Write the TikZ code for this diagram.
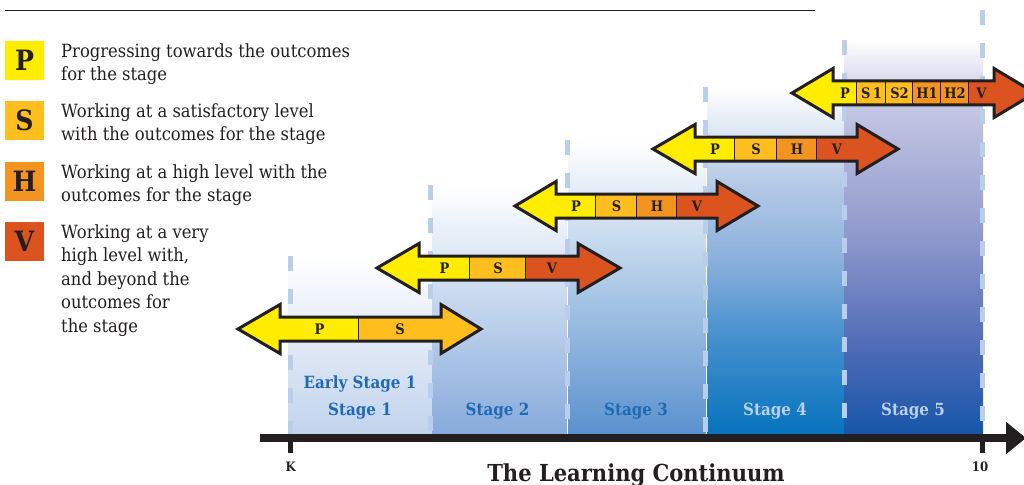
\documentclass[tikz,border=0pt]{standalone}
\usepackage{fontspec}
\setmainfont{DejaVu Serif}[FakeStretch=0.9]
\usetikzlibrary{arrows.meta}
\definecolor{cP}{HTML}{FFED00}
\definecolor{cS}{HTML}{FDBE1E}
\definecolor{cH}{HTML}{F39320}
\definecolor{cV}{HTML}{DB541F}
\definecolor{ink}{HTML}{231F20}
\definecolor{dashcol}{HTML}{B8CEEA}
\definecolor{stblue}{HTML}{1F6AB6}
\definecolor{stlight}{HTML}{BBD0EC}
\definecolor{cOneB}{HTML}{C1D3EC}
\definecolor{cOneM}{HTML}{DDE7F4}
\definecolor{cTwoB}{HTML}{86AADB}
\definecolor{cTwoM}{HTML}{BFD1EB}
\definecolor{cThrB}{HTML}{5A92CE}
\definecolor{cThrM}{HTML}{A4C0E4}
\definecolor{cFourA}{HTML}{0673BD}
\definecolor{cFourB}{HTML}{4690CE}
\definecolor{cFourC}{HTML}{8AB0DC}
\definecolor{cFourD}{HTML}{B4C9E6}
\definecolor{cFiveA}{HTML}{1656A8}
\definecolor{cFiveB}{HTML}{4D6AB5}
\definecolor{cFiveC}{HTML}{8E98CC}
\definecolor{cFiveD}{HTML}{C6C9E4}
\pgfdeclareverticalshading{colfour}{100bp}{color(0bp)=(cFourA); color(25bp)=(cFourA); color(39bp)=(cFourB); color(50bp)=(cFourC); color(61bp)=(cFourD); color(75bp)=(white); color(100bp)=(white)}
\pgfdeclareverticalshading{colfive}{100bp}{color(0bp)=(cFiveA); color(25bp)=(cFiveA); color(35.7bp)=(cFiveB); color(50bp)=(cFiveC); color(67.4bp)=(cFiveD); color(75bp)=(white); color(100bp)=(white)}
\newcommand\LChs{12}
\newcommand\LChh{24.5}
\newcommand\LCarrow[7]{%
  \fill[#6] (#2,#1) -- (#3,#1-\LChh) -- (#3,#1-\LChs) -- (#4,#1-\LChs) -- (#4,#1-\LChh) -- (#5,#1) -- (#4,#1+\LChh) -- (#4,#1+\LChs) -- (#3,#1+\LChs) -- (#3,#1+\LChh) -- cycle;
  \fill[cP] (#2,#1) -- (#3,#1-\LChh) -- (#3,#1+\LChh) -- cycle;
  \foreach \xa/\xb/\col/\lab/\nm in {#7}{%
    \fill[\col] (\xa,#1-\LChs) rectangle (\xb,#1+\LChs);
    \node[seglbl] (\nm) at ({(\xa+\xb)/2},#1) {\lab};
    \ifdim\xb pt<#4pt\relax\draw[divider] (\xb,#1-\LChs) -- (\xb,#1+\LChs);\fi
  }%
  \draw[arrowline] (#2,#1) -- (#3,#1-\LChh) -- (#3,#1-\LChs) -- (#4,#1-\LChs) -- (#4,#1-\LChh) -- (#5,#1) -- (#4,#1+\LChh) -- (#4,#1+\LChs) -- (#3,#1+\LChs) -- (#3,#1+\LChh) -- cycle;
}
\begin{document}
\begin{tikzpicture}[x=1pt,y=-1pt,
  seglbl/.style={inner sep=0pt, text=ink, font=\bfseries\fontsize{14.5}{14.5}\selectfont},
  divider/.style={draw=ink, line width=2pt},
  arrowline/.style={draw=ink, line width=3pt, line join=miter},
  lgbox/.style={minimum size=39pt, inner sep=0pt, text=ink, font=\bfseries\fontsize{28}{28}\selectfont},
  lgtxt/.style={anchor=north west, inner sep=0pt, align=left, text=ink, font=\fontsize{18.2}{23.5}\selectfont},
  dashline/.style={draw=dashcol, line width=5pt, dash pattern=on 15pt off 18pt},
  stagelbl/.style={anchor=base, inner sep=0pt, font=\bfseries\fontsize{16.8}{16.8}\selectfont},
  ticklbl/.style={anchor=base, inner sep=0pt, text=ink, font=\bfseries\fontsize{13}{13}\selectfont},
  ticktick/.style={draw=ink, line width=4.5pt}]
\useasboundingbox (0,0) rectangle (1024,484);
\begin{scope}
\clip (0,0) rectangle (1024,484);
% top rule
\coordinate (ruleL) at (5,10.5);
\coordinate (ruleR) at (815,10.5);
\draw[ink, line width=1.3pt] (ruleL) -- (ruleR);
% legend
\node[lgbox, fill=cP] (lgP) at (24.5,60.5) {P};
\node[lgbox, fill=cS] (lgS) at (24.5,120.5) {S};
\node[lgbox, fill=cH] (lgH) at (24.5,181.5) {H};
\node[lgbox, fill=cV] (lgV) at (24.5,241.5) {V};
\node[lgtxt] (tP) at (61,43) {Progressing towards the outcomes\\for the stage};
\node[lgtxt] (tS) at (61,103) {Working at a satisfactory level\\with the outcomes for the stage};
\node[lgtxt] (tH) at (61,164.3) {Working at a high level with the\\outcomes for the stage};
\node[lgtxt] (tV) at (61,224.3) {Working at a very\\high level with,\\and beyond the\\outcomes for\\the stage};
% columns
\shade[top color=white, middle color=cOneM, bottom color=cOneB] (288,255) rectangle (432,434);
\shade[top color=white, middle color=cTwoM, bottom color=cTwoB] (432,185) rectangle (567,434);
\shade[top color=white, middle color=cThrM, bottom color=cThrB] (567,140) rectangle (706,434);
\shade[shading=colfour] (706,87) rectangle (844,434);
\shade[shading=colfive] (844,40) rectangle (983,434);
\draw[white, line width=1pt] (567,140) -- (567,434);
\draw[white, line width=1pt] (706,87) -- (706,434);
% dashed boundaries
\draw[dashline] (290.5,256) -- (290.5,434);
\draw[dashline] (430,185) -- (430,434);
\draw[dashline] (567.5,140) -- (567.5,434);
\draw[dashline] (705.5,87) -- (705.5,434);
\draw[dashline] (844.5,40) -- (844.5,434);
\draw[dashline] (982.5,10) -- (982.5,434);
% stage labels
\node[stagelbl, text=stblue] (es1) at (360,388) {Early Stage 1};
\node[stagelbl, text=stblue] (st1) at (360,415) {Stage 1};
\node[stagelbl, text=stblue] (st2) at (497.5,415) {Stage 2};
\node[stagelbl, text=stblue] (st3) at (636,415) {Stage 3};
\node[stagelbl, text=stlight] (st4) at (775,415) {Stage 4};
\node[stagelbl, text=stlight] (st5) at (913,415) {Stage 5};
% arrows
\LCarrow{329}{238}{280}{441}{481}{cS}{280/359/cP/P/a1p, 359/441/cS/S/a1s}
\LCarrow{268}{377}{419}{578}{620}{cV}{419/470/cP/P/a2p, 470/526/cS/S/a2s, 526/578/cV/V/a2v}
\LCarrow{206}{515}{556}{717}{758}{cV}{556/596/cP/P/a3p, 596/637/cS/S/a3s, 637/677/cH/H/a3h, 677/717/cV/V/a3v}
\LCarrow{149}{653}{695}{857}{898}{cV}{695/735/cP/P/a4p, 735/777/cS/S/a4s, 777/817/cH/H/a4h, 817/857/cV/V/a4v}
\LCarrow{93}{792}{833}{994}{1035}{cV}{833/857/cP/P/a5p, 857/886/cS/S\,1/a5s1, 886/913/cS/S2/a5s2, 913/941/cH/H1/a5h1, 941/969/cH/H2/a5h2, 969/994/cV/V/a5v}
% axis
\coordinate (axL) at (260,438);
\coordinate (axR) at (1026,438);
\draw[ink, line width=8pt, -{Triangle[length=20pt,width=31pt]}] (axL) -- (axR);
\coordinate (kTop) at (290.7,440);
\coordinate (kBot) at (290.7,453);
\coordinate (tTop) at (982.7,440);
\coordinate (tBot) at (982.7,453);
\draw[ticktick] (kTop) -- (kBot);
\draw[ticktick] (tTop) -- (tBot);
\node[ticklbl] (kLbl) at (290.7,471) {K};
\node[ticklbl] (tenLbl) at (980,471) {10};
\node[anchor=base, inner sep=0pt, text=ink, font=\bfseries\fontsize{23.4}{23.4}\selectfont] (title) at (636,481) {The Learning Continuum};
\end{scope}
\end{tikzpicture}
\end{document}
